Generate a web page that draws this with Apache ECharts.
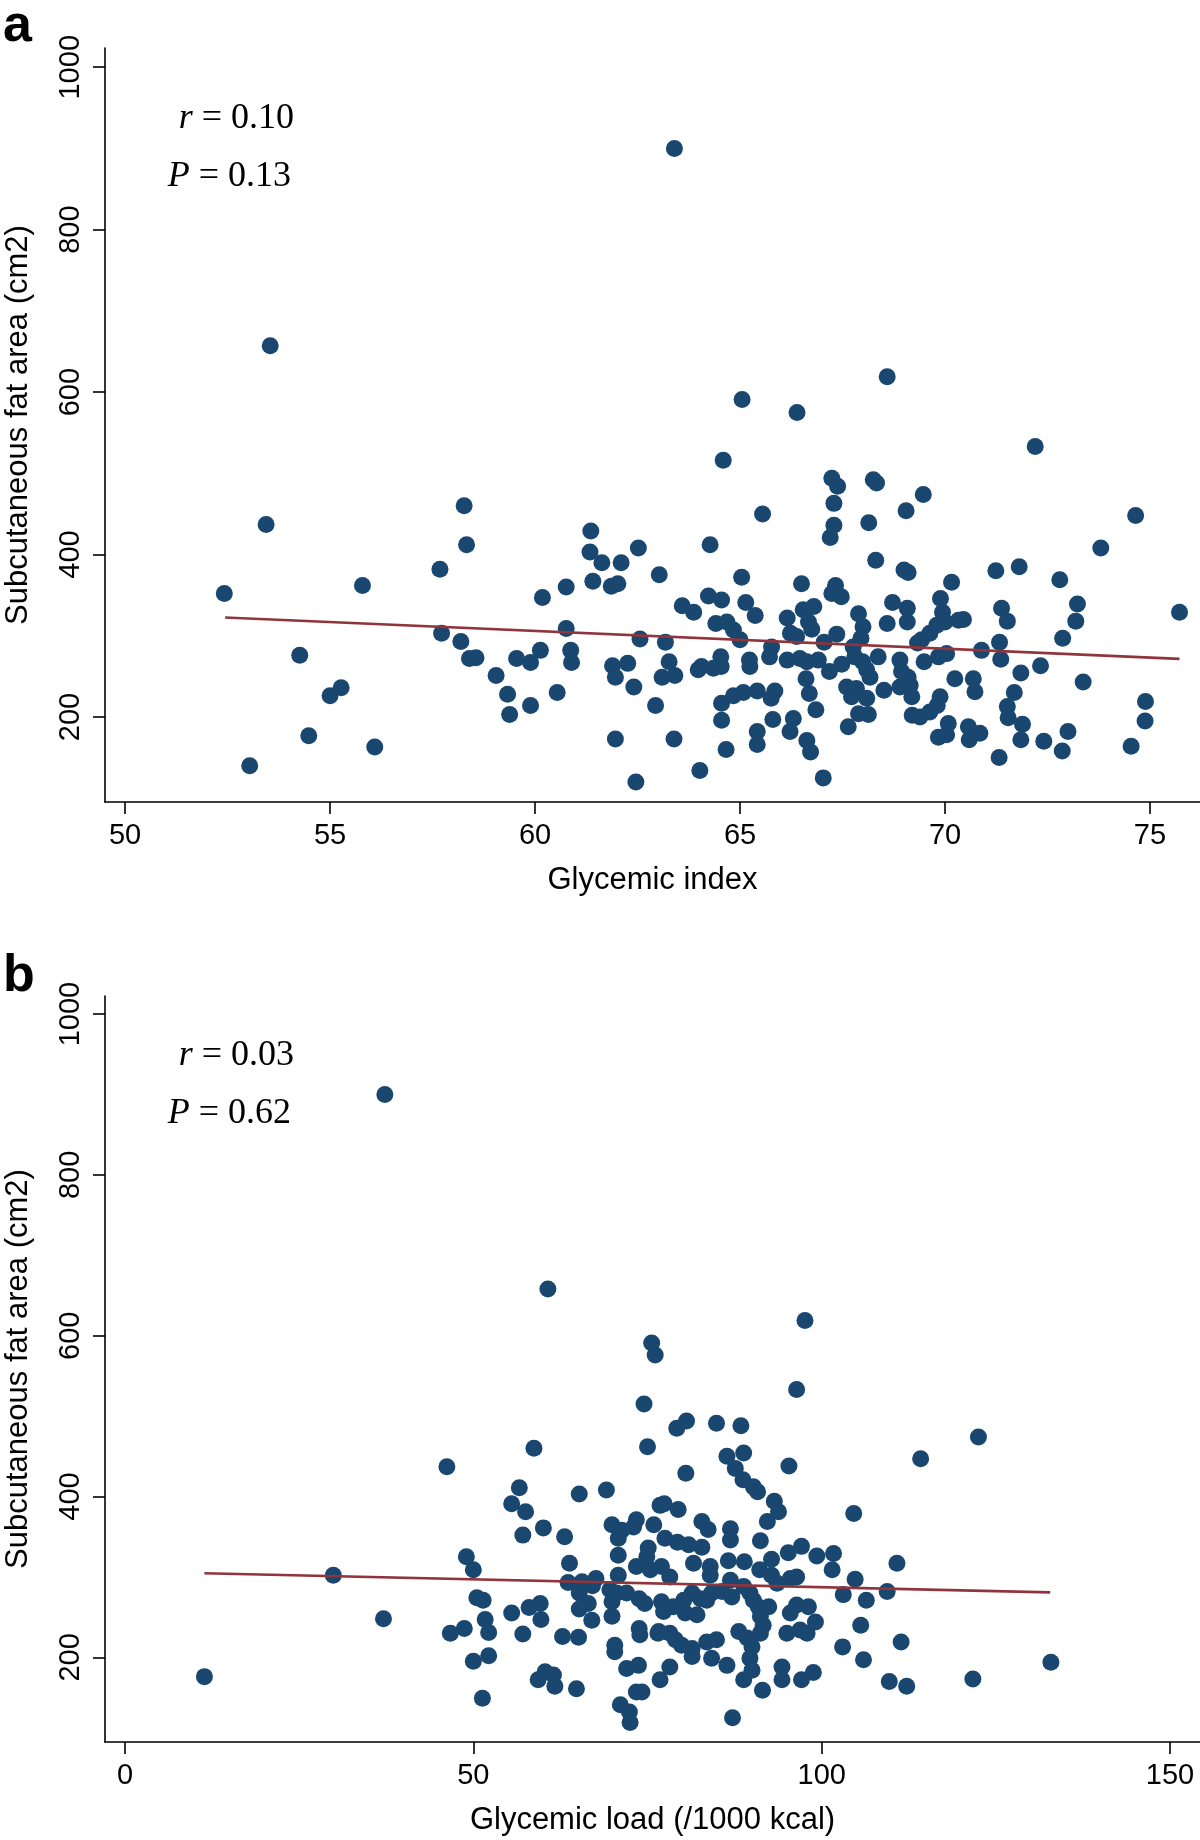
<!DOCTYPE html>
<html>
<head>
<meta charset="utf-8">
<script src="https://cdn.jsdelivr.net/npm/echarts@6/dist/echarts.min.js"></script>
<style>
html,body{margin:0;padding:0;background:#fff;}
#chart{width:1200px;height:1840px;}
</style>
</head>
<body>
<div id="chart"></div>
<script>
// ---------- Panel a: Glycemic index vs subcutaneous fat area ----------
var giA = [
53.54,63.4,53.44,52.42,55.79,54.26,55.0,55.27,54.48,56.09,53.04,65.05,66.39,68.59,72.2,
58.27,58.33,57.68,57.72,58.19,58.40,58.56,59.05,59.33,59.38,59.55,59.89,60.13,59.89,60.18,
60.76,60.76,60.87,60.89,60.54,61.36,61.34,61.63,62.10,61.41,61.86,62.02,62.52,63.03,63.59,
63.87,62.56,63.18,61.89,62.26,61.96,62.41,63.27,63.10,63.41,63.98,64.06,62.94,61.96,63.39,
62.46,64.02,64.27,64.23,
64.59,65.55,65.04,64.55,64.41,64.68,64.84,65.0,65.14,65.37,64.35,64.53,64.54,65.24,65.23,
64.55,64.84,65.08,65.42,64.55,64.66,65.42,65.42,65.76,65.85,65.80,65.72,65.77,66.15,66.23,
66.38,66.50,66.15,66.46,66.63,66.61,66.69,66.30,66.22,66.63,66.72,66.85,67.03,66.54,66.80,
66.67,66.75,66.91,67.18,67.48,67.05,67.36,67.24,67.38,67.29,67.29,67.20,67.33,67.24,67.47,
67.89,68.0,67.95,67.76,67.80,67.99,68.09,68.17,67.60,67.72,67.84,68.09,67.89,68.13,67.64,
68.37,68.51,68.59,68.72,68.14,68.25,68.33,68.31,69.05,69.47,69.0,69.10,69.08,69.08,68.90,
68.94,69.10,69.19,68.90,69.15,69.20,69.39,69.33,69.43,69.63,69.80,69.49,69.84,70.04,69.63,
69.81,69.88,70.08,69.84,70.04,69.89,69.94,70.0,70.16,70.24,70.33,
74.65,73.80,75.72,71.24,71.81,72.80,71.38,71.52,70.45,73.23,73.19,72.87,70.89,71.33,71.36,
72.33,71.85,70.69,70.73,71.69,73.37,71.52,71.54,71.89,70.57,70.85,70.59,71.85,72.41,73.0,
72.86,71.32,74.89,74.88,74.54
];
var sfaA = [
657,900,437,352,362,276,226,236,177,163,140,591,575,619,533,
460,412,382,303,293,272,273,251,228,203,272,267,282,214,347,
360,309,282,267,230,429,403,390,390,367,361,364,408,375,337,
329,296,292,263,266,249,237,268,249,251,258,262,214,173,173,
120,134,412,349,
516,450,372,344,315,317,307,295,341,325,260,274,262,262,270,
217,226,230,232,196,160,182,166,223,232,197,274,286,322,303,
299,364,270,272,268,247,229,198,182,171,157,209,125,332,336,
317,308,270,256,265,292,302,494,484,463,436,421,362,352,348,
327,311,297,286,274,268,258,249,237,225,235,223,204,203,188,
274,233,315,341,439,492,488,393,454,474,381,378,334,317,270,
256,249,225,237,239,202,200,291,295,303,313,268,274,278,206,
214,225,192,175,178,346,329,317,366,247,319,
448,408,329,380,385,369,334,318,320,339,318,297,282,292,271,
263,254,247,231,230,243,213,199,191,188,180,172,172,170,182,
158,150,219,195,164
];
var fitAx = [52.44, 75.72];
var fitAy = [322.5, 271.5];
var ticksAx = [50, 55, 60, 65, 70, 75];

// ---------- Panel b: Glycemic load vs subcutaneous fat area ----------
var glB = [
37.3,60.7,11.4,29.9,37.1,46.2,
75.6,76.1,74.5,75.0,58.7,56.6,55.5,57.5,57.1,60.05,63.1,65.2,69.1,49.0,
50.0,50.5,51.4,51.7,52.2,46.7,48.7,50.0,52.2,51.3,55.5,58.0,59.6,59.7,57.1,
59.3,60.3,61.5,61.7,62.8,65.1,64.8,63.8,63.6,65.6,67.6,67.1,65.2,66.5,65.2,
67.0,69.9,71.3,73.0,73.4,70.8,70.8,70.8,69.6,70.6,69.9,69.9,72.0,73.8,74.6,
73.4,74.9,75.4,75.1,75.9,76.8,73.8,73.9,76.5,70.3,70.3,72.0,73.7,73.4,74.2,
71.1,72.4,72.5,76.8,
79.2,80.6,84.9,88.4,86.4,88.8,87.6,88.7,90.2,90.8,95.3,80.5,93.2,93.8,92.2,
104.6,77.4,79.4,82.8,83.7,86.9,86.9,91.2,77.5,79.3,80.9,82.8,81.6,84.0,84.0,
86.6,88.9,91.1,92.8,95.2,97.1,99.3,101.7,101.5,104.8,103.1,106.4,105.6,103.0,106.0,
77.0,78.2,77.0,77.3,78.7,80.2,81.4,82.6,83.5,84.2,85.7,87.1,86.9,88.8,89.7,
90.2,90.9,91.2,91.6,91.2,89.3,90.0,89.7,90.0,88.8,88.1,92.4,80.4,82.1,76.6,
78.2,79.0,79.9,81.4,81.4,83.5,84.9,84.2,86.4,78.2,91.5,87.2,94.3,94.3,97.1,
98.8,95.0,96.9,97.9,95.5,96.4,98.1,99.1,95.5,96.4,92.8,93.6,97.6,96.4,
122.5,114.2,110.8,109.4,111.4,109.7,112.2,121.7,132.9
];
var sfaB = [
900,658,176,302,248,437,
591,576,515,462,460,411,391,381,352,361,350,403,408,325,
309,274,271,247,231,230,236,195,202,149,255,262,267,247,229,
172,182,178,164,226,225,161,317,293,294,298,289,280,267,260,
246,365,358,362,371,348,327,302,284,280,269,251,280,273,267,
313,325,309,336,365,389,236,228,230,215,207,186,190,157,157,
141,132,119,172,
485,494,491,488,450,454,435,421,412,406,438,429,394,381,369,
379,391,384,369,359,360,346,345,348,343,340,337,317,313,302,
320,319,309,322,330,338,326,329,309,297,278,271,240,213,197,
313,300,269,257,263,271,280,273,271,280,282,275,296,288,280,
271,263,251,240,230,224,213,199,184,172,232,263,255,253,232,
230,222,215,211,201,219,222,199,190,188,159,125,188,172,172,
181,230,234,230,255,265,263,244,298,300,302,292,619,533,
474,447,317,282,219,170,164,173,194
];
var fitBx = [11.4, 132.8];
var fitBy = [304.5, 280.8];
var ticksBx = [0, 50, 100, 150];

var ticksY = [200, 400, 600, 800, 1000];

function zip(xs, ys) {
  var out = [];
  for (var i = 0; i < xs.length && i < ys.length; i++) out.push([xs[i], ys[i]]);
  return out;
}

var SANS = '"Liberation Sans", Arial, Helvetica, sans-serif';
var SERIF = '"Liberation Serif", "Times New Roman", serif';
var DOT = '#1a476f';
var FIT = '#90353b';
function plain(v) { return String(v); }

function xAxisCfg(idx, min, max, ticks, name) {
  return {
    gridIndex: idx, type: 'value', min: min, max: max,
    name: name, nameLocation: 'middle', nameGap: 63,
    nameTextStyle: {fontSize: 31, color: '#000', fontFamily: SANS},
    axisLine: {show: true, onZero: false, lineStyle: {color: '#000', width: 1.6}},
    axisTick: {show: true, customValues: ticks, length: 12, lineStyle: {color: '#000', width: 1.6}},
    axisLabel: {customValues: ticks, formatter: plain, fontSize: 29, color: '#000', fontFamily: SANS, margin: 19},
    splitLine: {show: false}
  };
}
function yAxisCfg(idx, min, max) {
  return {
    gridIndex: idx, type: 'value', min: min, max: max,
    name: 'Subcutaneous fat area (cm2)', nameLocation: 'middle', nameGap: 71, nameRotate: 90,
    nameTextStyle: {fontSize: 31, color: '#000', fontFamily: SANS},
    axisLine: {show: true, onZero: false, lineStyle: {color: '#000', width: 1.6}},
    axisTick: {show: true, customValues: ticksY, length: 12, lineStyle: {color: '#000', width: 1.6}},
    axisLabel: {customValues: ticksY, formatter: plain, rotate: 90, fontSize: 29, color: '#000', fontFamily: SANS, margin: 20},
    splitLine: {show: false}
  };
}
function statText(x, y, letter, val) {
  return {
    type: 'text', x: x, y: y,
    style: {
      text: '{i|' + letter + '}{n| = ' + val + '}',
      fill: '#000', fontSize: 36, fontFamily: SERIF,
      align: 'right', textAlign: 'right', verticalAlign: 'middle', textVerticalAlign: 'middle',
      rich: {
        i: {fontStyle: 'italic', fontSize: 36, fontFamily: SERIF, fill: '#000'},
        n: {fontSize: 36, fontFamily: SERIF, fill: '#000'}
      }
    }
  };
}
function panelLabel(x, y, t) {
  return {
    type: 'text', x: x, y: y,
    style: {text: t, fill: '#000', fontSize: 52, fontWeight: 'bold', fontFamily: SANS,
      align: 'left', textAlign: 'left', verticalAlign: 'middle', textVerticalAlign: 'middle'}
  };
}

var chart = echarts.init(document.getElementById('chart'), null, {renderer: 'canvas', width: 1200, height: 1840});
chart.setOption({
  backgroundColor: '#fff',
  animation: false,
  grid: [
    {left: 105, top: 48, width: 1095, height: 754, outerBoundsMode: 'none', containLabel: false},
    {left: 105, top: 996, width: 1095, height: 746, outerBoundsMode: 'none', containLabel: false}
  ],
  xAxis: [
    xAxisCfg(0, 49.51, 76.22, ticksAx, 'Glycemic index'),
    xAxisCfg(1, -2.87, 154.3, ticksBx, 'Glycemic load (/1000 kcal)')
  ],
  yAxis: [
    yAxisCfg(0, 95.3, 1023.7),
    yAxisCfg(1, 94.7, 1022.5)
  ],
  graphic: [
    panelLabel(3, 27, 'a'),
    panelLabel(3, 977, 'b'),
    statText(294, 119, 'r', '0.10'),
    statText(291, 177, 'P', '0.13'),
    statText(294, 1056, 'r', '0.03'),
    statText(291, 1114, 'P', '0.62')
  ],
  series: [
    {type: 'scatter', xAxisIndex: 0, yAxisIndex: 0, data: zip(giA, sfaA),
      symbol: 'circle', symbolSize: 17, itemStyle: {color: DOT, opacity: 1}, z: 2},
    {type: 'line', xAxisIndex: 0, yAxisIndex: 0, data: zip(fitAx, fitAy),
      symbol: 'none', lineStyle: {color: FIT, width: 2.6}, z: 3},
    {type: 'scatter', xAxisIndex: 1, yAxisIndex: 1, data: zip(glB, sfaB),
      symbol: 'circle', symbolSize: 17, itemStyle: {color: DOT, opacity: 1}, z: 2},
    {type: 'line', xAxisIndex: 1, yAxisIndex: 1, data: zip(fitBx, fitBy),
      symbol: 'none', lineStyle: {color: FIT, width: 2.6}, z: 3}
  ]
});
</script>
</body>
</html>
